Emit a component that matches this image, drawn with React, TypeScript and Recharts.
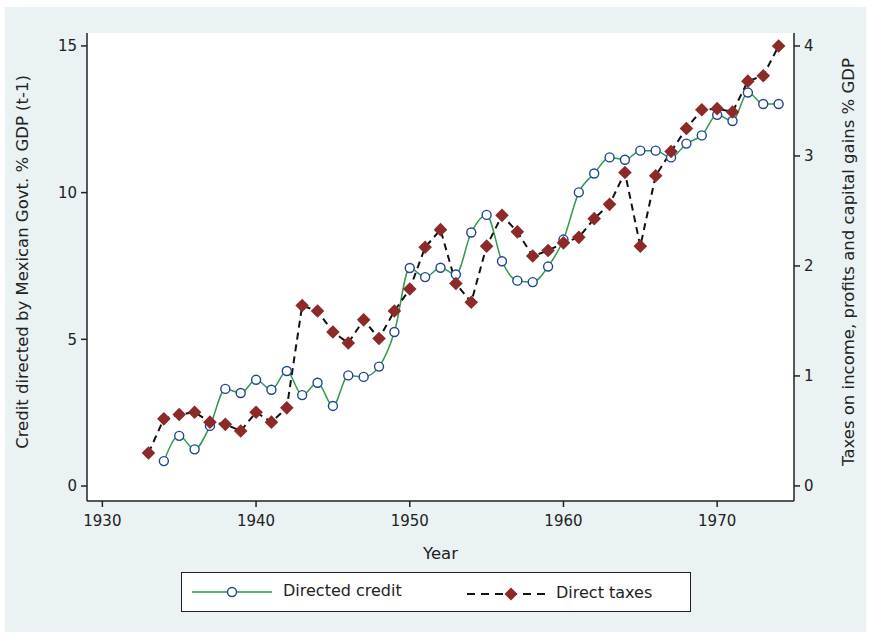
import React from 'react';
import { ComposedChart, Line, XAxis, YAxis, CartesianGrid } from 'recharts';

const years = [
  1933, 1934, 1935, 1936, 1937, 1938, 1939, 1940, 1941, 1942, 1943, 1944, 1945, 1946,
  1947, 1948, 1949, 1950, 1951, 1952, 1953, 1954, 1955, 1956, 1957, 1958, 1959, 1960,
  1961, 1962, 1963, 1964, 1965, 1966, 1967, 1968, 1969, 1970, 1971, 1972, 1973, 1974,
];

// credit directed by govt, % GDP (t-1); starts in 1934
const directedCredit = [
  null, 0.85, 1.71, 1.25, 2.05, 3.31, 3.17, 3.62, 3.28, 3.92, 3.1, 3.52, 2.73, 3.77,
  3.72, 4.07, 5.25, 7.43, 7.12, 7.44, 7.21, 8.64, 9.24, 7.66, 7.0, 6.95, 7.48, 8.4,
  10.01, 10.65, 11.2, 11.12, 11.43, 11.43, 11.2, 11.67, 11.95, 12.65, 12.44, 13.41, 13.02, 13.02,
];

// taxes on income, profits and capital gains, % GDP
const directTaxes = [
  0.3, 0.61, 0.65, 0.67, 0.58, 0.56, 0.5, 0.67, 0.58, 0.71, 1.64, 1.59, 1.4, 1.3,
  1.51, 1.34, 1.59, 1.79, 2.17, 2.33, 1.84, 1.67, 2.18, 2.46, 2.31, 2.09, 2.14, 2.21,
  2.26, 2.43, 2.56, 2.85, 2.18, 2.82, 3.04, 3.25, 3.42, 3.43, 3.4, 3.68, 3.73, 4.0,
];

const xTicks = [1930, 1940, 1950, 1960, 1970];
const leftTicks = [0, 5, 10, 15];
const rightTicks = [0, 1, 2, 3, 4];

const data = years.map((year, i) => ({
  year,
  credit: directedCredit[i],
  taxes: directTaxes[i],
}));

const FONT = '"DejaVu Sans", sans-serif';
const BG = '#eaf2f3';
const GREEN = '#2f9a4c';
const BLUE = '#1c4595';
const RED = '#8c2a2a';

const Diamond = (props: any) => {
  const { cx, cy } = props;
  if (cx == null || cy == null) return null;
  const r = 6.8;
  return (
    <path
      d={`M${cx},${cy - r}L${cx + r},${cy}L${cx},${cy + r}L${cx - r},${cy}Z`}
      fill={RED}
      stroke="none"
    />
  );
};

// rotated axis title placed relative to the axis box
const sideTitle = (text: string, dxFromLeft: number) => (props: any) => {
  const { viewBox } = props;
  const x = viewBox.x + dxFromLeft;
  const y = viewBox.y + viewBox.height / 2 - 5;
  return (
    <text
      x={x}
      y={y}
      transform={`rotate(-90, ${x}, ${y})`}
      textAnchor="middle"
      dominantBaseline="central"
      fill="#222"
      fontSize={16.5}
      fontFamily={FONT}
    >
      {text}
    </text>
  );
};

export default function App() {
  return (
    <div
      style={{
        position: 'absolute',
        left: 0,
        top: 0,
        width: 871,
        height: 636,
        background: '#fff',
        fontFamily: FONT,
      }}
    >
      <div style={{ position: 'absolute', left: 5, top: 7, width: 861, height: 625, background: BG }} />
      <div style={{ position: 'absolute', left: 0, top: 0 }}>
        <ComposedChart
          width={871}
          height={636}
          data={data}
          margin={{ top: 33, right: 27, bottom: 105, left: 37 }}
        >
          <rect x={87} y={33} width={707} height={468} fill="#fff" />
          <CartesianGrid vertical={false} stroke={BG} strokeWidth={1.5} yAxisId="left" />
          <XAxis
            dataKey="year"
            type="number"
            domain={[1929, 1975]}
            ticks={xTicks}
            allowDataOverflow
            height={30}
            tickSize={6}
            tickMargin={8}
            stroke="#222"
            strokeWidth={1.5}
            tick={{ fill: '#222', fontSize: 15, fontFamily: FONT }}
            label={{ value: 'Year', position: 'insideBottom', offset: -28, fill: '#222', fontSize: 16.5, fontFamily: FONT }}
          />
          <YAxis
            yAxisId="left"
            orientation="left"
            domain={[-0.51, 15.44]}
            ticks={leftTicks}
            allowDataOverflow
            width={50}
            tickSize={6}
            tickMargin={4}
            stroke="#222"
            strokeWidth={1.5}
            tick={{ fill: '#222', fontSize: 15, fontFamily: FONT }}
            label={{ content: sideTitle('Credit directed by Mexican Govt. % GDP (t-1)', -15) }}
          />
          <YAxis
            yAxisId="right"
            orientation="right"
            domain={[-0.137, 4.118]}
            ticks={rightTicks}
            allowDataOverflow
            width={50}
            tickSize={6}
            tickMargin={4}
            stroke="#222"
            strokeWidth={1.5}
            tick={{ fill: '#222', fontSize: 15, fontFamily: FONT }}
            label={{ content: sideTitle('Taxes on income, profits and capital gains % GDP', 54) }}
          />
          <Line
            yAxisId="left"
            dataKey="credit"
            type="monotone"
            stroke={GREEN}
            strokeWidth={1.5}
            dot={{ r: 4.5, fill: '#fff', stroke: BLUE, strokeWidth: 1.4 }}
            activeDot={false}
            connectNulls
            isAnimationActive={false}
          />
          <Line
            yAxisId="right"
            dataKey="taxes"
            type="linear"
            stroke="#111"
            strokeWidth={2}
            strokeDasharray="7 5"
            dot={<Diamond />}
            activeDot={false}
            isAnimationActive={false}
          />
        </ComposedChart>
      </div>
      {/* legend box */}
      <div
        style={{
          position: 'absolute',
          left: 181,
          top: 572,
          width: 510,
          height: 40,
          border: '1.5px solid #222',
          background: '#fff',
          boxSizing: 'border-box',
        }}
      >
        <svg width={100} height={38} style={{ position: 'absolute', left: 8, top: 0 }}>
          <line x1={2} y1={19} x2={82} y2={19} stroke={GREEN} strokeWidth={1.5} />
          <circle cx={42} cy={19} r={4.5} fill="#fff" stroke={BLUE} strokeWidth={1.4} />
        </svg>
        <span style={{ position: 'absolute', left: 101, top: 8, fontSize: 16, color: '#222' }}>Directed credit</span>
        <svg width={100} height={38} style={{ position: 'absolute', left: 283, top: 0 }}>
          <line x1={2} y1={21} x2={84} y2={21} stroke="#111" strokeWidth={2} strokeDasharray="8 6" />
          <path d="M46,14.5L52.5,21L46,27.5L39.5,21Z" fill={RED} />
        </svg>
        <span style={{ position: 'absolute', left: 374, top: 10, fontSize: 16, color: '#222' }}>Direct taxes</span>
      </div>
    </div>
  );
}
